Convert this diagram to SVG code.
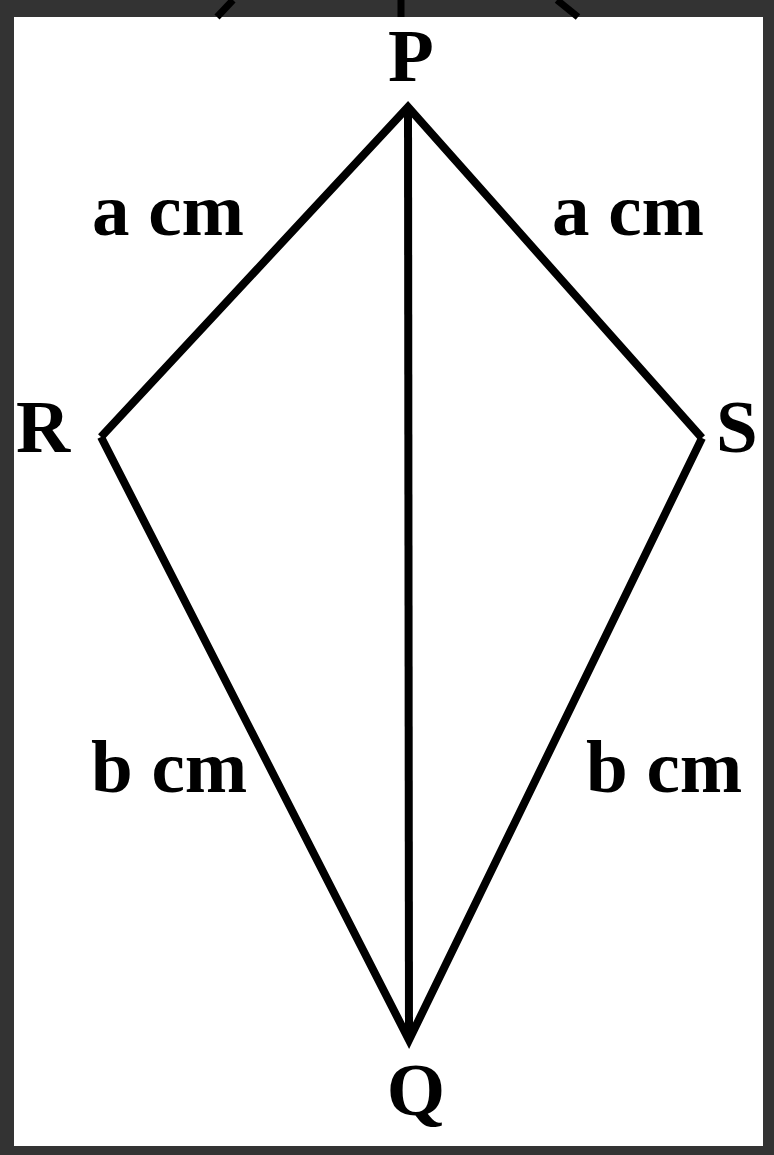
<svg xmlns="http://www.w3.org/2000/svg" width="774" height="1155" viewBox="0 0 774 1155">
<style>
.lbl{font-family:"Liberation Serif","Times New Roman",serif;font-weight:bold;font-size:75px;fill:#000}
.edge{stroke:#000;stroke-width:8;fill:none;stroke-linecap:butt;stroke-linejoin:miter;stroke-miterlimit:10}
</style>
<g id="frame">
<rect x="0" y="0" width="774" height="1155" fill="#333"/>
<rect x="14" y="17" width="749" height="1129" fill="#fff"/>
<g stroke="#000" stroke-width="7" fill="none">
<line x1="233" y1="0" x2="217" y2="17"/>
<line x1="401" y1="0" x2="401" y2="17"/>
<line x1="557" y1="0" x2="578" y2="17"/>
</g>
</g>
<g id="connectors">
<polyline class="edge" points="101,437 408,107 702,438"/>
<polyline class="edge" points="101,437 409,1040 702,438"/>
<line class="edge" x1="408" y1="107" x2="409" y2="1040"/>
</g>
<g id="node-P"><text class="lbl" x="411" y="81" text-anchor="middle">P</text></g>
<g id="node-Q"><text class="lbl" x="416" y="1115" text-anchor="middle">Q</text></g>
<g id="node-R"><text class="lbl" x="16" y="452">R</text></g>
<g id="node-S"><text class="lbl" x="716" y="452">S</text></g>
<g id="label-PR"><text class="lbl" x="92" y="235">a cm</text></g>
<g id="label-PS"><text class="lbl" x="552" y="235">a cm</text></g>
<g id="label-RQ"><text class="lbl" x="91" y="792">b cm</text></g>
<g id="label-SQ"><text class="lbl" x="586" y="792">b cm</text></g>
</svg>
